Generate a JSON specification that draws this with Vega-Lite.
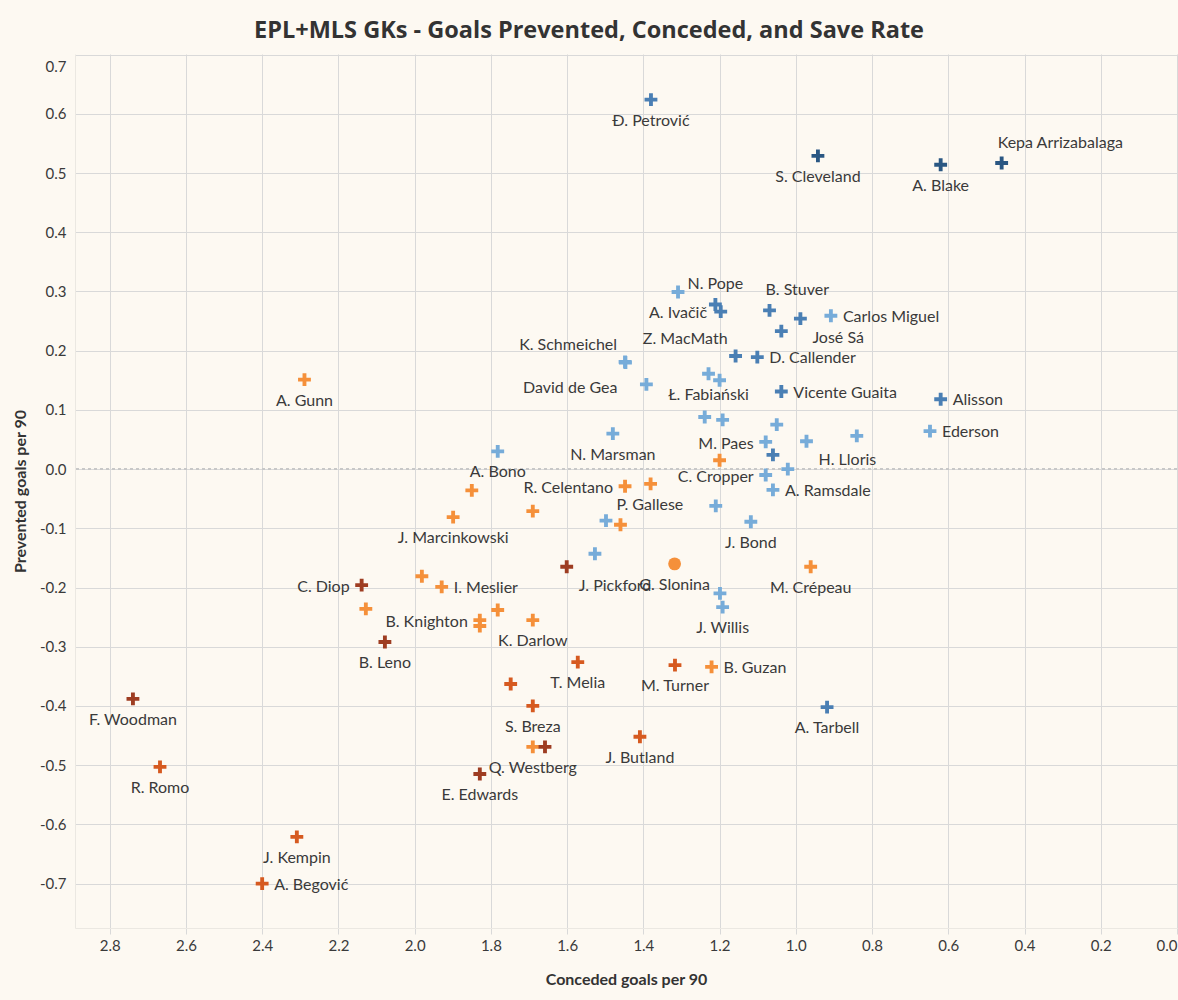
{
  "$schema": "https://vega.github.io/schema/vega-lite/v6.json",
  "autosize": {"type": "none"},
  "width": 1102,
  "height": 874,
  "padding": {"left": 75, "top": 54, "right": 1, "bottom": 72},
  "background": "#fdf9f2",
  "title": {
    "text": "EPL+MLS GKs - Goals Prevented, Conceded, and Save Rate",
    "font": "Open Sans", "fontSize": 23.5, "fontWeight": "bold", "color": "#333333",
    "anchor": "middle", "dx": -37, "offset": 12
  },
  "config": {
    "view": {"stroke": null},
    "axis": {
      "labelFont": "Lato", "labelFontSize": 15, "labelColor": "#3a3a3a",
      "titleFont": "Lato", "titleFontSize": 16, "titleFontWeight": "bold", "titleColor": "#333333",
      "gridColor": "#d9d9d9", "gridWidth": 1,
      "domainColor": "#ebe8e2", "tickColor": "#d9d9d9"
    },
    "text": {"font": "Lato", "fontSize": 16, "color": "#3a3a3a", "baseline": "middle"}
  },
  "data": {
    "values": [
      {"name": "Đ. Petrović", "conceded": 1.380, "prevented": 0.624, "save_tier": 5, "marker": "cross", "pos": "b"},
      {"name": "S. Cleveland", "conceded": 0.942, "prevented": 0.529, "save_tier": 6, "marker": "cross", "pos": "b"},
      {"name": "A. Blake", "conceded": 0.620, "prevented": 0.514, "save_tier": 6, "marker": "cross", "pos": "b"},
      {"name": "Kepa Arrizabalaga", "conceded": 0.460, "prevented": 0.517, "save_tier": 6, "marker": "cross", "pos": "tr"},
      {"name": "A. Ivačič", "conceded": 1.309, "prevented": 0.299, "save_tier": 4, "marker": "cross", "pos": "b"},
      {"name": "N. Pope", "conceded": 1.211, "prevented": 0.278, "save_tier": 5, "marker": "cross", "pos": "t"},
      {"name": "", "conceded": 1.197, "prevented": 0.266, "save_tier": 5, "marker": "cross", "pos": ""},
      {"name": "B. Stuver", "conceded": 1.069, "prevented": 0.268, "save_tier": 5, "marker": "cross", "pos": "tr"},
      {"name": "José Sá", "conceded": 0.988, "prevented": 0.254, "save_tier": 5, "marker": "cross", "pos": "br"},
      {"name": "Carlos Miguel", "conceded": 0.908, "prevented": 0.259, "save_tier": 4, "marker": "cross", "pos": "r"},
      {"name": "", "conceded": 1.038, "prevented": 0.233, "save_tier": 5, "marker": "cross", "pos": ""},
      {"name": "Z. MacMath", "conceded": 1.158, "prevented": 0.191, "save_tier": 5, "marker": "cross", "pos": "tl"},
      {"name": "D. Callender", "conceded": 1.101, "prevented": 0.189, "save_tier": 5, "marker": "cross", "pos": "r"},
      {"name": "K. Schmeichel", "conceded": 1.448, "prevented": 0.181, "save_tier": 4, "marker": "cross", "pos": "tl"},
      {"name": "David de Gea", "conceded": 1.447, "prevented": 0.180, "save_tier": 4, "marker": "cross", "pos": "bl"},
      {"name": "", "conceded": 1.392, "prevented": 0.143, "save_tier": 4, "marker": "cross", "pos": ""},
      {"name": "Ł. Fabiański", "conceded": 1.229, "prevented": 0.161, "save_tier": 4, "marker": "cross", "pos": "b"},
      {"name": "", "conceded": 1.200, "prevented": 0.150, "save_tier": 4, "marker": "cross", "pos": ""},
      {"name": "Vicente Guaita", "conceded": 1.038, "prevented": 0.131, "save_tier": 5, "marker": "cross", "pos": "r"},
      {"name": "Alisson", "conceded": 0.620, "prevented": 0.118, "save_tier": 5, "marker": "cross", "pos": "r"},
      {"name": "Ederson", "conceded": 0.648, "prevented": 0.064, "save_tier": 4, "marker": "cross", "pos": "r"},
      {"name": "", "conceded": 1.239, "prevented": 0.088, "save_tier": 4, "marker": "cross", "pos": ""},
      {"name": "", "conceded": 1.192, "prevented": 0.083, "save_tier": 4, "marker": "cross", "pos": ""},
      {"name": "", "conceded": 1.050, "prevented": 0.075, "save_tier": 4, "marker": "cross", "pos": ""},
      {"name": "N. Marsman", "conceded": 1.480, "prevented": 0.060, "save_tier": 4, "marker": "cross", "pos": "b"},
      {"name": "A. Bono", "conceded": 1.782, "prevented": 0.030, "save_tier": 4, "marker": "cross", "pos": "b"},
      {"name": "M. Paes", "conceded": 1.079, "prevented": 0.046, "save_tier": 4, "marker": "cross", "pos": "l"},
      {"name": "H. Lloris", "conceded": 0.972, "prevented": 0.047, "save_tier": 4, "marker": "cross", "pos": "br"},
      {"name": "", "conceded": 0.840, "prevented": 0.056, "save_tier": 4, "marker": "cross", "pos": ""},
      {"name": "", "conceded": 1.060, "prevented": 0.024, "save_tier": 5, "marker": "cross", "pos": ""},
      {"name": "", "conceded": 1.200, "prevented": 0.015, "save_tier": 3, "marker": "cross", "pos": ""},
      {"name": "", "conceded": 1.021, "prevented": 0.000, "save_tier": 4, "marker": "cross", "pos": ""},
      {"name": "C. Cropper", "conceded": 1.079, "prevented": -0.010, "save_tier": 4, "marker": "cross", "pos": "l"},
      {"name": "A. Ramsdale", "conceded": 1.060, "prevented": -0.035, "save_tier": 4, "marker": "cross", "pos": "r"},
      {"name": "R. Celentano", "conceded": 1.448, "prevented": -0.029, "save_tier": 3, "marker": "cross", "pos": "l"},
      {"name": "", "conceded": 1.381, "prevented": -0.025, "save_tier": 3, "marker": "cross", "pos": ""},
      {"name": "", "conceded": 1.850, "prevented": -0.036, "save_tier": 3, "marker": "cross", "pos": ""},
      {"name": "", "conceded": 1.690, "prevented": -0.071, "save_tier": 3, "marker": "cross", "pos": ""},
      {"name": "J. Marcinkowski", "conceded": 1.899, "prevented": -0.081, "save_tier": 3, "marker": "cross", "pos": "b"},
      {"name": "", "conceded": 1.498, "prevented": -0.087, "save_tier": 4, "marker": "cross", "pos": ""},
      {"name": "P. Gallese", "conceded": 1.460, "prevented": -0.094, "save_tier": 3, "marker": "cross", "pos": "tr"},
      {"name": "", "conceded": 1.210, "prevented": -0.062, "save_tier": 4, "marker": "cross", "pos": ""},
      {"name": "J. Bond", "conceded": 1.118, "prevented": -0.089, "save_tier": 4, "marker": "cross", "pos": "b"},
      {"name": "", "conceded": 1.527, "prevented": -0.143, "save_tier": 4, "marker": "cross", "pos": ""},
      {"name": "J. Pickford", "conceded": 1.601, "prevented": -0.165, "save_tier": 1, "marker": "cross", "pos": "br"},
      {"name": "G. Slonina", "conceded": 1.318, "prevented": -0.160, "save_tier": 3, "marker": "circle", "pos": "b"},
      {"name": "M. Crépeau", "conceded": 0.961, "prevented": -0.165, "save_tier": 3, "marker": "cross", "pos": "b"},
      {"name": "", "conceded": 1.199, "prevented": -0.210, "save_tier": 4, "marker": "cross", "pos": ""},
      {"name": "J. Willis", "conceded": 1.192, "prevented": -0.233, "save_tier": 4, "marker": "cross", "pos": "b"},
      {"name": "C. Diop", "conceded": 2.139, "prevented": -0.196, "save_tier": 1, "marker": "cross", "pos": "l"},
      {"name": "", "conceded": 1.981, "prevented": -0.181, "save_tier": 3, "marker": "cross", "pos": ""},
      {"name": "I. Meslier", "conceded": 1.929, "prevented": -0.199, "save_tier": 3, "marker": "cross", "pos": "r"},
      {"name": "", "conceded": 2.128, "prevented": -0.236, "save_tier": 3, "marker": "cross", "pos": ""},
      {"name": "B. Leno", "conceded": 2.078, "prevented": -0.292, "save_tier": 1, "marker": "cross", "pos": "b"},
      {"name": "B. Knighton", "conceded": 1.829, "prevented": -0.255, "save_tier": 3, "marker": "cross", "pos": "l"},
      {"name": "", "conceded": 1.829, "prevented": -0.265, "save_tier": 3, "marker": "cross", "pos": ""},
      {"name": "", "conceded": 1.782, "prevented": -0.238, "save_tier": 3, "marker": "cross", "pos": ""},
      {"name": "K. Darlow", "conceded": 1.690, "prevented": -0.255, "save_tier": 3, "marker": "cross", "pos": "b"},
      {"name": "T. Melia", "conceded": 1.572, "prevented": -0.326, "save_tier": 2, "marker": "cross", "pos": "b"},
      {"name": "M. Turner", "conceded": 1.317, "prevented": -0.331, "save_tier": 2, "marker": "cross", "pos": "b"},
      {"name": "B. Guzan", "conceded": 1.221, "prevented": -0.334, "save_tier": 3, "marker": "cross", "pos": "r"},
      {"name": "", "conceded": 1.748, "prevented": -0.363, "save_tier": 2, "marker": "cross", "pos": ""},
      {"name": "S. Breza", "conceded": 1.690, "prevented": -0.400, "save_tier": 2, "marker": "cross", "pos": "b"},
      {"name": "A. Tarbell", "conceded": 0.918, "prevented": -0.402, "save_tier": 5, "marker": "cross", "pos": "b"},
      {"name": "J. Butland", "conceded": 1.409, "prevented": -0.452, "save_tier": 2, "marker": "cross", "pos": "b"},
      {"name": "Q. Westberg", "conceded": 1.690, "prevented": -0.469, "save_tier": 3, "marker": "cross", "pos": "b"},
      {"name": "", "conceded": 1.658, "prevented": -0.469, "save_tier": 1, "marker": "cross", "pos": ""},
      {"name": "E. Edwards", "conceded": 1.829, "prevented": -0.515, "save_tier": 1, "marker": "cross", "pos": "b"},
      {"name": "F. Woodman", "conceded": 2.739, "prevented": -0.388, "save_tier": 1, "marker": "cross", "pos": "b"},
      {"name": "R. Romo", "conceded": 2.668, "prevented": -0.503, "save_tier": 2, "marker": "cross", "pos": "b"},
      {"name": "J. Kempin", "conceded": 2.309, "prevented": -0.621, "save_tier": 2, "marker": "cross", "pos": "b"},
      {"name": "A. Begović", "conceded": 2.400, "prevented": -0.700, "save_tier": 2, "marker": "cross", "pos": "r"},
      {"name": "A. Gunn", "conceded": 2.289, "prevented": 0.151, "save_tier": 3, "marker": "cross", "pos": "b"}
    ]
  },
  "encoding": {
    "x": {
      "field": "conceded", "type": "quantitative",
      "scale": {"domain": [0, 2.891], "reverse": true, "nice": false, "zero": false},
      "axis": {
        "title": "Conceded goals per 90",
        "values": [0, 0.2, 0.4, 0.6, 0.8, 1.0, 1.2, 1.4, 1.6, 1.8, 2.0, 2.2, 2.4, 2.6, 2.8],
        "format": ".1f", "ticks": true, "tickSize": 6, "labelPadding": 4,
        "labelFlush": true, "titlePadding": 18, "labelOverlap": false
      }
    },
    "y": {
      "field": "prevented", "type": "quantitative",
      "scale": {"domain": [-0.775, 0.701], "nice": false, "zero": false},
      "axis": {
        "title": "Prevented goals per 90",
        "values": [-0.7, -0.6, -0.5, -0.4, -0.3, -0.2, -0.1, 0, 0.1, 0.2, 0.3, 0.4, 0.5, 0.6, 0.7],
        "labelExpr": "replace(format(datum.value, '.1f'), '−', '-')",
        "ticks": false, "labelPadding": 9, "titlePadding": 11,
        "labelFlush": true, "labelFlushOffset": -5, "labelOverlap": false
      }
    }
  },
  "layer": [
    {
      "mark": {"type": "rule", "strokeDash": [3, 3], "color": "#c9c9c9", "strokeWidth": 1},
      "encoding": {"y": {"datum": 0, "type": "quantitative"}, "x": null}
    },
    {
      "mark": {"type": "point", "filled": true, "opacity": 1, "size": 165},
      "encoding": {
        "color": {
          "field": "save_tier", "type": "ordinal", "legend": null,
          "scale": {"domain": [1, 2, 3, 4, 5, 6], "range": ["#9e3d22", "#d65a20", "#f5903a", "#77acd9", "#4a7fb4", "#2a5783"]}
        },
        "shape": {
          "field": "marker", "type": "nominal", "legend": null,
          "scale": {"domain": ["cross", "circle"], "range": ["M-1,-0.3H-0.3V-1H0.3V-0.3H1V0.3H0.3V1H-0.3V0.3H-1Z", "circle"]}
        }
      }
    },
    {
      "transform": [{"filter": "datum.pos === 'b'"}],
      "mark": {"type": "text", "align": "center", "dy": 21},
      "encoding": {"text": {"field": "name"}}
    },
    {
      "transform": [{"filter": "datum.pos === 't'"}],
      "mark": {"type": "text", "align": "center", "dy": -20},
      "encoding": {"text": {"field": "name"}}
    },
    {
      "transform": [{"filter": "datum.pos === 'r'"}],
      "mark": {"type": "text", "align": "left", "dx": 12, "dy": 1},
      "encoding": {"text": {"field": "name"}}
    },
    {
      "transform": [{"filter": "datum.pos === 'l'"}],
      "mark": {"type": "text", "align": "right", "dx": -12, "dy": 2},
      "encoding": {"text": {"field": "name"}}
    },
    {
      "transform": [{"filter": "datum.pos === 'tr'"}],
      "mark": {"type": "text", "align": "left", "dx": -4, "dy": -20},
      "encoding": {"text": {"field": "name"}}
    },
    {
      "transform": [{"filter": "datum.pos === 'tl'"}],
      "mark": {"type": "text", "align": "right", "dx": -8, "dy": -17},
      "encoding": {"text": {"field": "name"}}
    },
    {
      "transform": [{"filter": "datum.pos === 'br'"}],
      "mark": {"type": "text", "align": "left", "dx": 12, "dy": 19},
      "encoding": {"text": {"field": "name"}}
    },
    {
      "transform": [{"filter": "datum.pos === 'bl'"}],
      "mark": {"type": "text", "align": "right", "dx": -8, "dy": 25},
      "encoding": {"text": {"field": "name"}}
    }
  ]
}
